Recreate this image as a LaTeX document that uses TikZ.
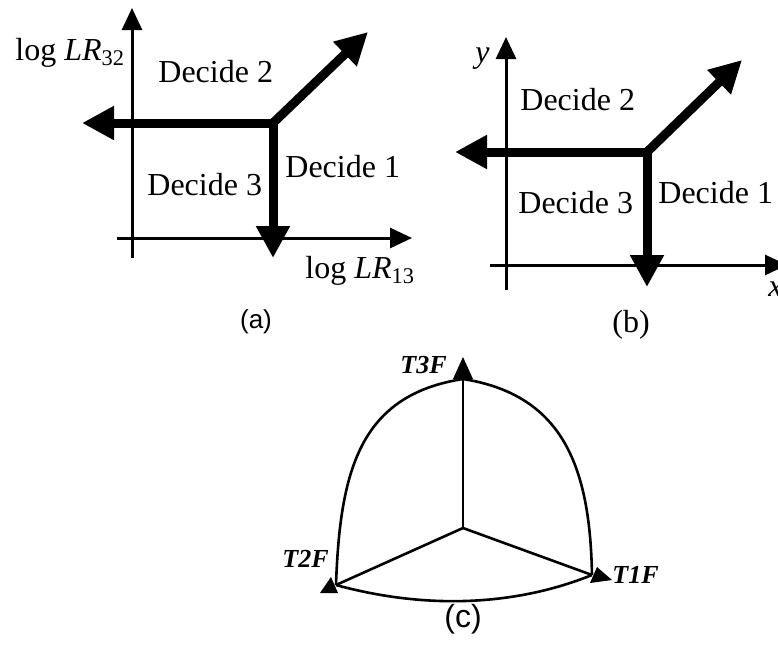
\documentclass[tikz,border=0pt]{standalone}
\usepackage{fontspec}
\setmainfont{Liberation Serif}
\newfontfamily\capsans{Liberation Sans}
\usetikzlibrary{arrows.meta}
\tikzset{
  >={Triangle[length=11pt,width=10pt]},
  axis/.style={->,line width=1.5pt},
  bound/.style={-{Triangle[length=16pt,width=16pt]},line width=4.5pt,line cap=rect},
  lbl/.style={font=\fontsize{16}{18}\selectfont,inner sep=0pt},
  vert/.style={font=\fontsize{13}{15}\selectfont\bfseries\itshape,inner sep=0pt},
  tern/.style={line width=1.3pt},
}

\begin{document}
\begin{tikzpicture}[x=0.5pt,y=-0.5pt]
  \useasboundingbox (0,0) rectangle (778,654);
  % (a)
  \coordinate (a0) at (132,258); \coordinate (a1) at (132,8);
  \coordinate (a2) at (117,238); \coordinate (a3) at (412,238);
  \coordinate (ac) at (273,123);
  \coordinate (al) at (82,123); \coordinate (ad) at (273,258); \coordinate (au) at (368,32);
  \draw[axis] (a0) -- (a1);
  \draw[axis] (a2) -- (a3);
  \draw[bound] (ac) -- (al);
  \draw[bound] (ac) -- (ad);
  \draw[bound] (ac) -- (au);
  \node[lbl,anchor=base west] (ylab) at (15,60) {log \textit{LR}\textsubscript{32}};
  \node[lbl,anchor=base west] (xlab) at (305,278) {log \textit{LR}\textsubscript{13}};
  \node[lbl,anchor=base west] (a2t) at (158,82) {Decide 2};
  \node[lbl,anchor=base west] (a3t) at (147,195) {Decide 3};
  \node[lbl,anchor=base west] (a1t) at (285,177) {Decide 1};
  \node[font=\capsans\fontsize{13}{15}\selectfont,inner sep=0pt] (capa) at (256,322) {(a)};
  % (b)
  \coordinate (b0) at (506,290); \coordinate (b1) at (506,37);
  \coordinate (b2) at (490,265); \coordinate (b3) at (787,265);
  \coordinate (bc) at (647,152);
  \coordinate (bl) at (455,152); \coordinate (bd) at (647,287); \coordinate (bu) at (742,60);
  \draw[axis] (b0) -- (b1);
  \draw[axis] (b2) -- (b3);
  \draw[bound] (bc) -- (bl);
  \draw[bound] (bc) -- (bd);
  \draw[bound] (bc) -- (bu);
  \node[lbl,anchor=base west] (yb) at (475,62) {\textit{y}};
  \node[lbl,anchor=base west] (xb) at (768,296) {\textit{x}};
  \node[lbl,anchor=base west] (b2t) at (520,110) {Decide 2};
  \node[lbl,anchor=base west] (b3t) at (518,213) {Decide 3};
  \node[lbl,anchor=base west] (b1t) at (658,203) {Decide 1};
  \node[font=\fontsize{16}{18}\selectfont,inner sep=0pt] (capb) at (631,325) {(b)};
  % (c)
  \coordinate (o) at (463,528);
  \coordinate (t) at (463,379);
  \coordinate (l) at (336,585);
  \coordinate (r) at (592,575);
  \draw[tern] (o) -- (t);
  \draw[tern] (o) -- (l);
  \draw[tern] (o) -- (r);
  \draw[tern] (t) .. controls (360,395) and (340,470) .. (l);
  \draw[tern] (t) .. controls (565,395) and (590,470) .. (r);
  \draw[tern] (l) .. controls (420,608) and (510,608) .. (r);
  \fill (453,379) -- (473,379) -- (463,357) -- cycle;
  \fill (320,593) -- (338,593) -- (331,577) -- cycle;
  \fill (590,583) -- (612,580) -- (597,567) -- cycle;
  \node[vert,anchor=base west] (t3f) at (400,373) {T3F};
  \node[vert,anchor=base west] (t2f) at (282,567) {T2F};
  \node[vert,anchor=base west] (t1f) at (612,583) {T1F};
  \node[font=\capsans\fontsize{16}{18}\selectfont,inner sep=0pt] (capc) at (463,619) {(c)};
\end{tikzpicture}
\end{document}
